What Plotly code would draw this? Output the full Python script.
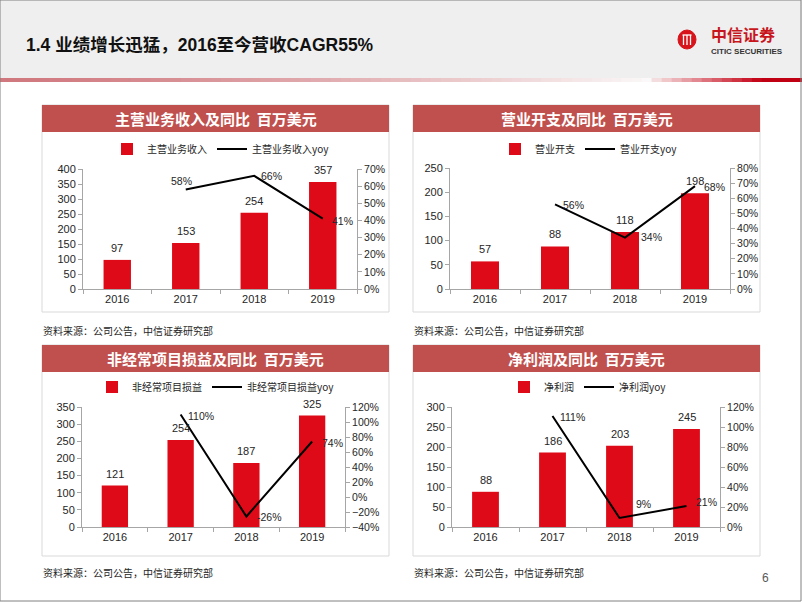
import plotly.graph_objects as go

# ---------------- data ----------------
years = ["2016", "2017", "2018", "2019"]

rev = [97, 153, 254, 357]
rev_yoy = [None, 0.58, 0.66, 0.41]

opex = [57, 88, 118, 198]
opex_yoy = [None, 0.56, 0.34, 0.68]

nonrec = [121, 254, 187, 325]
nonrec_yoy = [None, 1.10, -0.26, 0.74]

profit = [88, 186, 203, 245]
profit_yoy = [None, 1.11, 0.09, 0.21]

page_title = "1.4 业绩增长迅猛，2016至今营收CAGR55%"
source_text = "资料来源：公司公告，中信证券研究部"

# ---------------- helpers ----------------
W, H = 802, 602
FONT = "Liberation Sans, Arial, Noto Sans CJK SC"
CJK = "Noto Sans CJK SC, Liberation Sans"
BAR_RED = "#DE0A17"
BAND_RED = "#C0504D"
AXIS_GRAY = "#A6A6A6"
TXT = "#262626"


def px(x):
    return x / W


def py(y):
    return 1 - y / H


panels = [
    dict(title="主营业务收入及同比  百万美元", bar_name="主营业务收入", line_name="主营业务收入yoy",
         bars=rev, yoy=rev_yoy, box=(42, 105, 389, 312), xdom=(83, 357), ydom=(169, 289),
         yl=(0, 400, 50), yr=(0, 0.7, 0.1), legend_xy=(221, 149), src_y=330,
         shifts=[(0, 0), (-4, 9), (17, 0), (20, -2)]),
    dict(title="营业开支及同比  百万美元", bar_name="营业开支", line_name="营业开支yoy",
         bars=opex, yoy=opex_yoy, box=(413, 105, 760, 312), xdom=(450, 730), ydom=(168, 289),
         yl=(0, 250, 50), yr=(0, 0.8, 0.1), legend_xy=(589, 149), src_y=330,
         shifts=[(0, 0), (18, -1), (26, 1), (19, -1)]),
    dict(title="非经常项目损益及同比  百万美元", bar_name="非经常项目损益", line_name="非经常项目损益yoy",
         bars=nonrec, yoy=nonrec_yoy, box=(42, 345, 389, 556), xdom=(82, 345), ydom=(407, 527),
         yl=(0, 350, 50), yr=(-0.4, 1.2, 0.2), legend_xy=(216, 387), src_y=572,
         shifts=[(0, 0), (20, -1), (23, 0), (20, -1)]),
    dict(title="净利润及同比  百万美元", bar_name="净利润", line_name="净利润yoy",
         bars=profit, yoy=profit_yoy, box=(413, 345, 760, 556), xdom=(452, 720), ydom=(407, 527),
         yl=(0, 300, 50), yr=(0, 1.2, 0.2), legend_xy=(588, 387), src_y=572,
         shifts=[(0, 0), (20, -1), (24, 14), (20, 4)]),
]

fig = go.Figure()
shapes = []
annotations = []
layout_axes = {}

# ---------------- slide decoration ----------------
shapes.append(dict(type="rect", xref="paper", yref="paper", x0=0, x1=1, y0=py(78), y1=1,
                   fillcolor="#EFEFEF", line=dict(width=0), layer="below"))


def lerp(a, b, t):
    return tuple(int(round(a[i] + (b[i] - a[i]) * t)) for i in range(3))


n_seg = 80
for i in range(n_seg):
    x0 = W * i / n_seg
    x1 = W * (i + 1) / n_seg
    xc = (x0 + x1) / 2
    if xc < 640:
        c = lerp((208, 120, 126), (250, 246, 246), (xc / 640) ** 1.3)
    elif xc < 655:
        c = (250, 248, 248)
    elif xc < 760:
        c = lerp((245, 225, 225), (196, 0, 20), (xc - 655) / 105)
    else:
        c = (192, 0, 18)
    shapes.append(dict(type="rect", xref="paper", yref="paper", x0=px(x0), x1=px(x1) + 0.001,
                       y0=py(82), y1=py(78), fillcolor="rgb(%d,%d,%d)" % c,
                       line=dict(width=0), layer="below"))

shapes.append(dict(type="rect", xref="paper", yref="paper", x0=0, x1=px(801), y0=py(601), y1=1,
                   line=dict(color="#808080", width=1), fillcolor="rgba(0,0,0,0)"))

annotations.append(dict(text="<b>%s</b>" % page_title, xref="paper", yref="paper",
                        x=px(24), y=py(45), xanchor="left", yanchor="middle", showarrow=False,
                        font=dict(family=FONT, size=17.5, color="#111111")))

# logo
shapes.append(dict(type="circle", xref="paper", yref="paper", x0=px(678), x1=px(696),
                   y0=py(49), y1=py(30), fillcolor="#D7141A", line=dict(color="#D7141A", width=1)))
for lx in (683.5, 687, 690.5):
    shapes.append(dict(type="line", xref="paper", yref="paper", x0=px(lx), x1=px(lx),
                       y0=py(45), y1=py(35), line=dict(color="white", width=1.3)))
shapes.append(dict(type="line", xref="paper", yref="paper", x0=px(682.5), x1=px(691.5),
                   y0=py(35), y1=py(35), line=dict(color="white", width=1.3)))
annotations.append(dict(text="<b>中信证券</b>", xref="paper", yref="paper", x=px(709), y=py(34),
                        xanchor="left", yanchor="middle", showarrow=False,
                        font=dict(family=CJK, size=16, color="#C8161D")))
annotations.append(dict(text="<b>CITIC SECURITIES</b>", xref="paper", yref="paper", x=px(709), y=py(51),
                        xanchor="left", yanchor="middle", showarrow=False,
                        font=dict(family="Liberation Sans Narrow, Liberation Sans", size=8, color="#333333")))

annotations.append(dict(text="6", xref="paper", yref="paper", x=px(765), y=py(578),
                        xanchor="center", yanchor="middle", showarrow=False,
                        font=dict(family=FONT, size=12, color="#595959")))

# ---------------- panels ----------------
for k, p in enumerate(panels):
    xname = "x" if k == 0 else "x%d" % (k + 1)
    yl_name = "y" if k == 0 else "y%d" % (2 * k + 1)
    yr_name = "y%d" % (2 * k + 2)
    leg = "legend" if k == 0 else "legend%d" % (k + 1)

    bx0, by0, bx1, by1 = p["box"]
    shapes.append(dict(type="rect", xref="paper", yref="paper", x0=px(bx0), x1=px(bx1),
                       y0=py(by1), y1=py(by0), fillcolor="white",
                       line=dict(color="#D9D9D9", width=1), layer="below"))
    shapes.append(dict(type="rect", xref="paper", yref="paper", x0=px(bx0), x1=px(bx1),
                       y0=py(by0 + 27), y1=py(by0), fillcolor=BAND_RED,
                       line=dict(width=0), layer="below"))
    annotations.append(dict(text="<b>%s</b>" % p["title"], xref="paper", yref="paper",
                            x=px((bx0 + bx1) / 2), y=py(by0 + 13.5), xanchor="center", yanchor="middle",
                            showarrow=False, font=dict(family=CJK, size=15, color="white")))
    annotations.append(dict(text=source_text, xref="paper", yref="paper", x=px(bx0 - 1), y=py(p["src_y"]),
                            xanchor="left", yanchor="middle", showarrow=False,
                            font=dict(family=CJK, size=10, color=TXT)))

    fig.add_trace(go.Bar(
        x=years, y=p["bars"], name=p["bar_name"], marker=dict(color=BAR_RED, line=dict(width=0)),
        width=0.4, xaxis=xname, yaxis=yl_name, legend=leg,
    ))
    fig.add_trace(go.Scatter(
        x=years, y=p["yoy"], name=p["line_name"], mode="lines",
        line=dict(color="black", width=2),
        cliponaxis=False, xaxis=xname, yaxis=yr_name, legend=leg,
    ))

    for i, v in enumerate(p["bars"]):
        annotations.append(dict(text=str(v), xref=xname, yref=yl_name, x=i, y=v,
                                yshift=12, xanchor="center", yanchor="middle", showarrow=False,
                                font=dict(family=FONT, size=11, color=TXT)))
    for i, (v, (dx, dy)) in enumerate(zip(p["yoy"], p["shifts"])):
        if v is None:
            continue
        annotations.append(dict(text="%d%%" % round(v * 100), xref=xname, yref=yr_name, x=i, y=v,
                                xshift=dx, yshift=dy, xanchor="center", yanchor="middle",
                                showarrow=False, font=dict(family=FONT, size=10.5, color=TXT)))

    xa = "xaxis" if k == 0 else "xaxis%d" % (k + 1)
    ya_l = "yaxis" if k == 0 else "yaxis%d" % (2 * k + 1)
    ya_r = "yaxis%d" % (2 * k + 2)

    layout_axes[xa] = dict(domain=[px(p["xdom"][0]), px(p["xdom"][1])], anchor=yl_name,
                           type="category", range=[-0.5, len(years) - 0.5], automargin=False,
                           showline=True, linecolor=AXIS_GRAY, linewidth=1,
                           ticks="outside", tickson="boundaries", ticklen=4, tickcolor=AXIS_GRAY,
                           showgrid=False, tickfont=dict(family=FONT, size=11, color=TXT),
                           fixedrange=True)
    lo, hi, dt = p["yl"]
    layout_axes[ya_l] = dict(domain=[py(p["ydom"][1]), py(p["ydom"][0])], anchor=xname,
                             range=[lo, hi], dtick=dt, tick0=lo, showline=True, linecolor=AXIS_GRAY,
                             ticks="outside", ticklen=4, tickcolor=AXIS_GRAY, showgrid=False,
                             zeroline=False, automargin=False,
                             tickfont=dict(family=FONT, size=11, color=TXT), fixedrange=True)
    lo2, hi2, dt2 = p["yr"]
    layout_axes[ya_r] = dict(overlaying=yl_name, side="right", anchor=xname,
                             range=[lo2, hi2], dtick=dt2, tick0=lo2, tickformat=".0%",
                             showline=True, linecolor=AXIS_GRAY, ticks="outside", ticklen=4,
                             tickcolor=AXIS_GRAY, showgrid=False, zeroline=False, automargin=False,
                             tickfont=dict(family=FONT, size=10.5, color=TXT), fixedrange=True)
    lx, ly = p["legend_xy"]
    layout_axes[leg] = dict(orientation="h", x=px(lx), y=py(ly), xanchor="center", yanchor="middle",
                            font=dict(family=CJK, size=10, color=TXT), bgcolor="rgba(0,0,0,0)",
                            itemwidth=30, tracegroupgap=0)

fig.update_layout(
    width=W, height=H, margin=dict(l=0, r=0, t=0, b=0, pad=0, autoexpand=False),
    paper_bgcolor="white", plot_bgcolor="rgba(0,0,0,0)",
    showlegend=True, barmode="group",
    shapes=shapes, annotations=annotations,
    **layout_axes,
)

pin_js = (
    "document.documentElement.style.margin='0';document.documentElement.style.padding='0';"
    "document.body.style.margin='0';document.body.style.padding='0';document.body.style.overflow='hidden';"
    "var gd=document.getElementsByClassName('plotly-graph-div')[0];"
    "gd.style.position='absolute';gd.style.left='0px';gd.style.top='0px';"
)
fig.write_html("out.html", config={"displayModeBar": False}, post_script=pin_js)
